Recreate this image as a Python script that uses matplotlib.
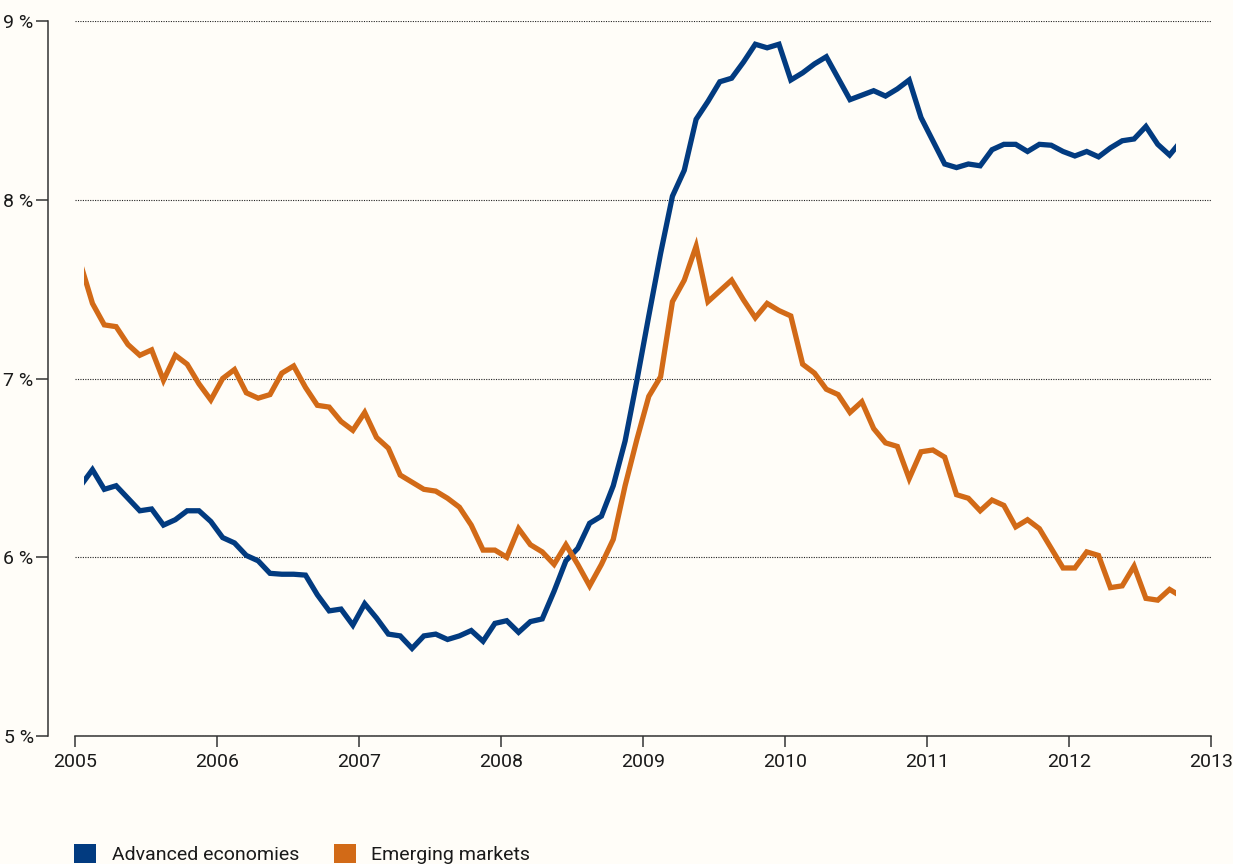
import numpy as np
import matplotlib
matplotlib.use("Agg")
import matplotlib.pyplot as plt
from matplotlib.patches import Patch, Rectangle

plt.rcParams['font.family'] = ['Roboto', 'DejaVu Sans']

# monthly observations, Jan 2005 .. Oct 2012 (unemployment rate, %)
advanced = [6.40, 6.49, 6.38, 6.40, 6.33, 6.26, 6.27, 6.18, 6.21, 6.26,
            6.26, 6.20, 6.11, 6.08, 6.01, 5.98, 5.91, 5.905, 5.905, 5.90,
            5.79, 5.70, 5.71, 5.62, 5.74, 5.66, 5.57, 5.56, 5.49, 5.56,
            5.57, 5.54, 5.56, 5.59, 5.53, 5.63, 5.645, 5.58, 5.64, 5.655,
            5.81, 5.98, 6.05, 6.19, 6.23, 6.40, 6.65, 6.99, 7.35, 7.70,
            8.02, 8.165, 8.45, 8.55, 8.66, 8.68, 8.77, 8.87, 8.85, 8.87,
            8.67, 8.71, 8.76, 8.80, 8.68, 8.56, 8.585, 8.61, 8.58, 8.62,
            8.67, 8.46, 8.33, 8.20, 8.18, 8.20, 8.19, 8.28, 8.31, 8.31,
            8.27, 8.31, 8.305, 8.27, 8.245, 8.27, 8.24, 8.29, 8.33, 8.34,
            8.41, 8.31, 8.25, 8.33]

emerging = [7.64, 7.42, 7.30, 7.29, 7.19, 7.13, 7.16, 6.99, 7.13, 7.08,
            6.97, 6.88, 7.00, 7.05, 6.92, 6.89, 6.91, 7.03, 7.07, 6.95,
            6.85, 6.84, 6.76, 6.71, 6.81, 6.67, 6.61, 6.46, 6.42, 6.38,
            6.37, 6.33, 6.28, 6.18, 6.04, 6.04, 6.00, 6.16, 6.07, 6.03,
            5.96, 6.07, 5.96, 5.84, 5.96, 6.10, 6.40, 6.66, 6.90, 7.01,
            7.43, 7.55, 7.74, 7.43, 7.49, 7.55, 7.44, 7.34, 7.42, 7.38,
            7.35, 7.08, 7.03, 6.94, 6.91, 6.81, 6.87, 6.72, 6.64, 6.62,
            6.44, 6.59, 6.60, 6.56, 6.35, 6.33, 6.26, 6.32, 6.29, 6.17,
            6.21, 6.16, 6.05, 5.94, 5.94, 6.03, 6.01, 5.83, 5.84, 5.95,
            5.77, 5.76, 5.82, 5.78]

series_names = ['Advanced economies', 'Emerging markets']
colors = ['#023B80', '#D26A17']
year_ticks = list(range(2005, 2014))
pct_ticks = [5, 6, 7, 8, 9]

months = np.arange(len(advanced))
t = 2005 + (months + 0.5) / 12.0

bg = '#FFFDF8'
fig = plt.figure(figsize=(12.33, 8.64), dpi=100, facecolor=bg)
ax = fig.add_axes([74.7 / 1233, 1 - 736 / 864, (1211 - 74.7) / 1233, (736 - 21) / 864])
ax.set_facecolor(bg)

# lines are cut at the edges of the data window
clip = Rectangle((2005.066, 4), 2012.756 - 2005.066, 6, transform=ax.transData)
for vals, col in zip([advanced, emerging], colors):
    ln, = ax.plot(t, vals, color=col, lw=3.8, solid_joinstyle='miter', zorder=3)
    ln.set_clip_path(clip)

ax.set_xlim(2005, 2013)
ax.set_ylim(5, 9)
ax.set_xticks(year_ticks)
ax.set_xticklabels([str(y) for y in year_ticks])
ax.set_yticks(pct_ticks)
ax.set_yticklabels([f'{p} %' for p in pct_ticks])

ax.yaxis.grid(True, linestyle=(0, (1, 1.2)), color='#222222', lw=0.8)
ax.set_axisbelow(True)

for s in ['top', 'right']:
    ax.spines[s].set_visible(False)
ax.spines['left'].set_position(('outward', 19))
for s in ['left', 'bottom']:
    ax.spines[s].set_color('#333333')
    ax.spines[s].set_linewidth(1.1)

ax.tick_params(axis='x', direction='out', length=8, width=1.1, color='#333333',
               pad=4, labelsize=14, labelcolor='#1a1a1a')
ax.tick_params(axis='y', direction='out', length=8.5, width=1.1, color='#333333',
               pad=2, labelsize=14, labelcolor='#1a1a1a')

handles = [Patch(facecolor=c, edgecolor='none', lw=0) for c in colors]
fig.legend(handles, series_names, loc='lower left',
           bbox_to_anchor=(74 / 1233, 0.0), bbox_transform=fig.transFigure,
           ncol=2, frameon=False, fontsize=14, handlelength=1.13,
           handleheight=1.13, handletextpad=0.8, columnspacing=1.8,
           borderpad=0, borderaxespad=0, labelcolor='#1a1a1a')

fig.savefig('out.png', dpi=100, facecolor=bg)
